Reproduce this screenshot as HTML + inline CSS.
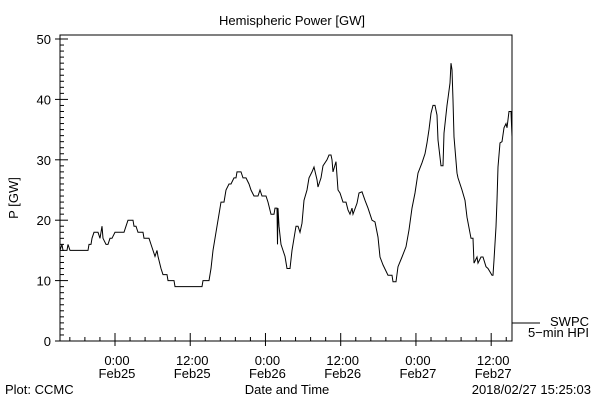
<!DOCTYPE html>
<html><head><meta charset="utf-8"><style>
html,body{margin:0;padding:0;background:#fff;}
svg{display:block;font-family:"Liberation Sans",sans-serif;}
text{fill:#000;font-size:13px;}
</style></head><body>
<svg id="chart" width="600" height="400" viewBox="0 0 600 400" xmlns="http://www.w3.org/2000/svg">
<rect x="0" y="0" width="600" height="400" fill="#fff"/>
<text x="292" y="25" text-anchor="middle" font-size="14">Hemispheric Power [GW]</text>
<text transform="translate(18,198) rotate(-90)" text-anchor="middle">P [GW]</text>
<text x="287" y="394" text-anchor="middle">Date and Time</text>
<text x="5" y="394">Plot: CCMC</text>
<text x="591" y="394" text-anchor="end">2018/02/27 15:25:03</text>
<g id="axes"></g>
<g id="series"></g>
<g>
<line x1="512" y1="323" x2="540" y2="323" stroke="#000" stroke-width="1"/>
<text x="589" y="326" text-anchor="end" font-size="12">SWPC</text>
<text x="589" y="337" text-anchor="end" font-size="12">5−min HPI</text>
</g>
</svg>
<script>
// hours relative to 0:00 Feb25
const hours = [-8.77,-8.45,-8.29,-7.66,-7.5,-7.18,-4.31,-4.15,-3.83,-3.67,-3.35,-2.71,-2.39,-2.07,-1.91,-1.44,-1.12,-0.8,-0.48,0,1.44,1.75,2.07,2.87,3.03,3.35,3.67,4.47,4.63,5.42,5.74,6.06,6.38,6.7,6.86,7.34,7.66,8.29,8.45,9.41,9.57,10.37,13.88,14.04,14.99,15.31,15.63,15.95,16.27,16.59,16.91,17.38,17.7,18.18,18.5,18.98,19.3,19.46,20.1,20.41,20.89,21.37,21.69,22.17,22.81,23.13,23.45,24.09,24.4,24.88,25.36,25.52,25.84,25.92,26.0,26.16,26.48,26.8,27.12,27.43,27.91,28.23,28.55,28.87,29.19,29.51,29.83,30.15,30.62,30.94,31.42,31.74,32.22,32.38,32.86,33.18,33.82,34.13,34.45,34.61,34.77,35.25,35.57,35.89,36.37,36.85,37.17,37.48,37.8,37.96,38.6,38.92,39.4,39.87,40.35,40.99,41.47,41.95,42.26,42.74,43.54,44.18,44.34,44.82,45.14,45.77,46.41,46.89,47.37,47.85,48.33,48.96,49.44,49.76,50.08,50.4,50.72,51.04,51.36,51.52,51.99,52.31,52.47,52.95,53.11,53.43,53.59,53.75,53.91,54.07,54.55,54.71,55.34,55.82,56.14,56.78,57.1,57.26,57.74,57.9,58.37,58.69,59.17,59.49,60.13,60.29,60.45,60.77,60.93,61.09,61.41,61.73,62.05,62.36,62.52,62.84,63.16,63.32];
const power = [15,16,15,15,16,15,15,16,16,17,18,18,17,19,17,16,16,17,17,18,18,19,20,20,19,19,18,18,17,17,16,15,14,15,14,12,11,11,10,10,9,9,9,10,10,12,15,17,19,21,23,23,25,26,26,27,27,28,28,27,27,26,25,24,24,25,24,24,23,21,21,22,22,16,22,19,16,15,14,12,12,15,17,19,19,18,19.5,23.3,25,27,28,28.8,26.7,25.5,27,29,30,30.8,30.8,30,28,29.7,25,24.5,23,23,21.7,21,22,21,22.8,24.5,24.7,23.3,22,20,19.7,17.2,13.9,12.6,10.9,10.9,9.8,9.8,12.3,13.9,15.6,18.4,22,24.5,27.8,29.5,31,32.8,35,37.7,39,39,37.4,33.3,29,29,34.4,39,40.2,42.7,46,44.9,39.9,33.8,27.8,27,25,23.3,20.5,17,17,12.9,13.9,12.9,13.9,13.9,12.3,12,10.9,10.9,13.4,18.9,23.3,28.8,32.8,33,35.3,36,35.3,38,38,33.8,32.8];
const yTickValues = [0,10,20,30,40,50];
const xTickHours = [0,12,24,36,48,60];
const xTickTimes = ["0:00","12:00","0:00","12:00","0:00","12:00"];
const xTickDates = ["Feb25","Feb25","Feb26","Feb26","Feb27","Feb27"];

const L=60,R=512,T=35,B=341;
const xMin=-8.77,xMax=63.32;
function xs(h){return L+(h-xMin)/(xMax-xMin)*(R-L);}
function ys(v){return 341-v*6.04;}
const NS="http://www.w3.org/2000/svg";
function mk(tag,attrs,parent){const e=document.createElementNS(NS,tag);for(const k in attrs)e.setAttribute(k,attrs[k]);parent.appendChild(e);return e;}
const ax=document.getElementById('axes');
const frame=mk('rect',{x:L,y:T,width:R-L,height:B-T,fill:'none',stroke:'#000','stroke-width':1},ax);


// y minor ticks
for(let v=0;v<=50;v++){
  const t=mk('line',{x1:L,x2:L+(v%10===0?8:4),y1:ys(v),y2:ys(v),stroke:'#000','stroke-width':1},ax);
  
  
}
yTickValues.forEach(v=>{
  const t=mk('line',{x1:L-5,x2:L,y1:ys(v),y2:ys(v),stroke:'#000'},ax);
  
  
  const lb=mk('text',{x:L-9,y:ys(v)+5,'text-anchor':'end'},ax);
  lb.textContent=v;
  
  
});
// x minor ticks every 2.4h
for(let h=-7.2;h<=63;h+=2.4){
  const major=Math.abs(h/12-Math.round(h/12))<0.01;
  const t=mk('line',{x1:xs(h),x2:xs(h),y1:B,y2:B-(major?8:4),stroke:'#000'},ax);
  
  
}
xTickHours.forEach((h,i)=>{
  const t=mk('line',{x1:xs(h),x2:xs(h),y1:B,y2:B+5,stroke:'#000'},ax);
  
  
  const a=mk('text',{x:xs(h)+2,y:365,'text-anchor':'middle'},ax);
  a.textContent=xTickTimes[i];
  
  
  const b=mk('text',{x:xs(h)+2,y:378,'text-anchor':'middle'},ax);
  b.textContent=xTickDates[i];
  
  
});
const pts=hours.map((h,i)=>xs(h).toFixed(1)+','+ys(power[i]).toFixed(1)).join(' ');
const line=mk('polyline',{points:pts,fill:'none',stroke:'#000','stroke-width':1},document.getElementById('series'));


</script>
</body></html>
